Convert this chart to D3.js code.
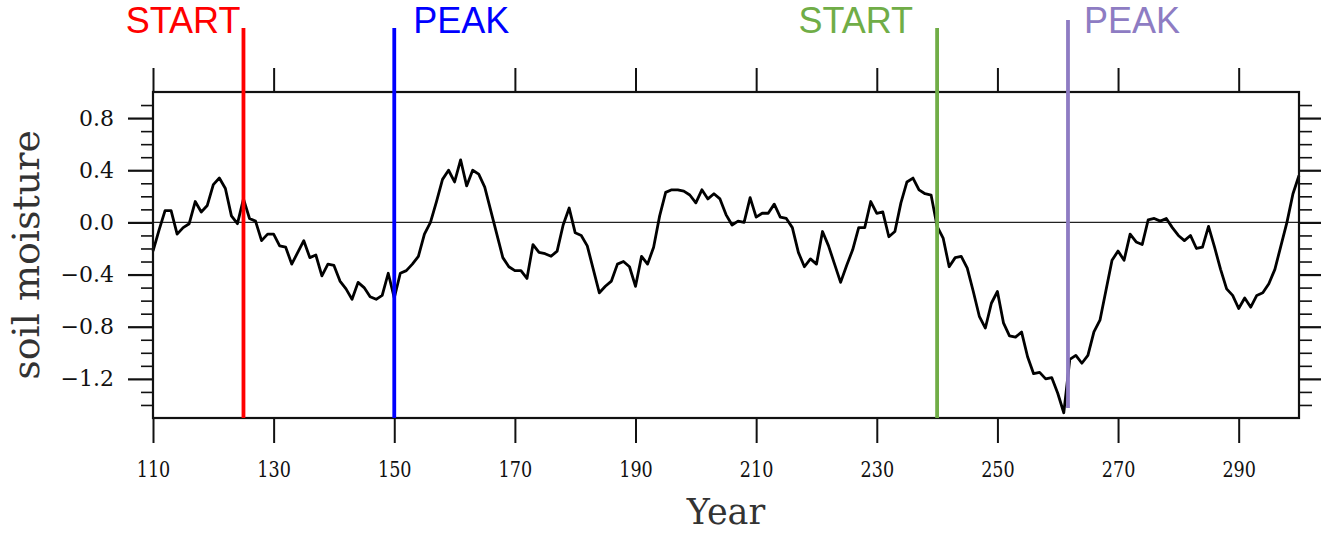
<!DOCTYPE html>
<html>
<head>
<meta charset="utf-8">
<script src="https://cdn.jsdelivr.net/npm/d3@7"></script>
<style>
  html, body { margin: 0; padding: 0; background: #fff; }
  svg { display: block; }
</style>
</head>
<body>
<svg id="chart" width="1326" height="534"></svg>
<script>
// Soil moisture anomaly, one value per year from 110 to 300
const firstYear = 110;
const soilMoisture = [
  -0.22, -0.06, 0.09, 0.09, -0.09, -0.04, -0.01, 0.16, 0.08, 0.13,
  0.29, 0.34, 0.26, 0.05, -0.01, 0.18, 0.03, 0.01, -0.14, -0.09,
  -0.09, -0.18, -0.19, -0.32, -0.23, -0.14, -0.27, -0.25, -0.41, -0.32,
  -0.33, -0.45, -0.51, -0.59, -0.46, -0.50, -0.57, -0.59, -0.56, -0.39,
  -0.58, -0.39, -0.37, -0.32, -0.26, -0.09, 0.00, 0.16, 0.33, 0.40,
  0.31, 0.48, 0.28, 0.40, 0.37, 0.27, 0.09, -0.09, -0.27, -0.34,
  -0.37, -0.37, -0.43, -0.17, -0.23, -0.24, -0.26, -0.22, -0.02, 0.11,
  -0.08, -0.10, -0.18, -0.36, -0.54, -0.49, -0.45, -0.32, -0.30, -0.34,
  -0.49, -0.26, -0.32, -0.19, 0.05, 0.23, 0.25, 0.25, 0.24, 0.21,
  0.15, 0.25, 0.18, 0.22, 0.18, 0.06, -0.02, 0.01, 0.00, 0.19,
  0.04, 0.07, 0.07, 0.14, 0.04, 0.03, -0.04, -0.23, -0.34, -0.28,
  -0.32, -0.07, -0.18, -0.32, -0.46, -0.33, -0.21, -0.04, -0.04, 0.16,
  0.07, 0.08, -0.11, -0.07, 0.15, 0.31, 0.34, 0.25, 0.22, 0.21,
  -0.03, -0.12, -0.34, -0.27, -0.26, -0.35, -0.53, -0.72, -0.81, -0.62,
  -0.53, -0.77, -0.87, -0.88, -0.84, -1.03, -1.16, -1.15, -1.20, -1.19,
  -1.31, -1.46, -1.05, -1.02, -1.08, -1.02, -0.84, -0.75, -0.52, -0.29,
  -0.22, -0.29, -0.09, -0.15, -0.17, 0.02, 0.03, 0.01, 0.03, -0.04,
  -0.10, -0.14, -0.10, -0.20, -0.19, -0.03, -0.19, -0.36, -0.51, -0.56,
  -0.66, -0.58, -0.65, -0.56, -0.54, -0.47, -0.36, -0.18, 0.00, 0.22,
  0.36
];
const years = soilMoisture.map((_, i) => firstYear + i);

// Event markers
const markerYears = [125, 150, 240, 261.7];
const markerLabels = ["START", "PEAK", "START", "PEAK"];

// Axis ticks
const xDomain = [110, 300];
const yDomain = [-1.5, 1.0];
const xTickValues = [110, 130, 150, 170, 190, 210, 230, 250, 270, 290];
const yMajorTicks = [-1.2, -0.8, -0.4, 0.0, 0.4, 0.8];
const yMinorTicks = [-1.4, -1.3, -1.1, -1.0, -0.9, -0.7, -0.6, -0.5, -0.3, -0.2, -0.1,
                     0.1, 0.2, 0.3, 0.5, 0.6, 0.7, 0.9];

const svg = d3.select("#chart");
const plot = { left: 153, right: 1299, top: 92, bottom: 418 };

const x = d3.scaleLinear().domain(xDomain).range([plot.left, plot.right]);
const y = d3.scaleLinear().domain(yDomain).range([plot.bottom, plot.top]);

const serif = "'DejaVu Serif', serif";
const markerColors = ["#ff0000", "#0000ff", "#70ad47", "#8e7cc3"];
const labelAnchor = ["end", "start", "end", "start"];
const labelShift = [-3, 19, -24, 16];
const markerTop = [28, 28, 28, 20];
const markerBottom = [418, 418, 418, 408];

// zero reference line
svg.append("line")
  .attr("x1", x(xDomain[0])).attr("x2", x(xDomain[1]))
  .attr("y1", y(0)).attr("y2", y(0))
  .attr("stroke", "#222").attr("stroke-width", 1.4);

// data line
const line = d3.line()
  .x((d, i) => x(years[i]))
  .y(d => y(d));

svg.append("path")
  .datum(soilMoisture)
  .attr("d", line)
  .attr("fill", "none")
  .attr("stroke", "#000")
  .attr("stroke-width", 2.8)
  .attr("stroke-linejoin", "round");

// axes
function styleAxis(g, width) {
  g.select(".domain").remove();
  g.selectAll(".tick line").attr("stroke", "#111").attr("stroke-width", width);
}

svg.append("g")
  .attr("transform", `translate(0,${plot.bottom})`)
  .call(d3.axisBottom(x).tickValues(xTickValues).tickSize(25).tickPadding(18).tickFormat(d3.format("d")))
  .call(g => styleAxis(g, 2))
  .call(g => g.selectAll(".tick text")
    .attr("font-family", serif)
    .attr("font-size", 22)
    .attr("transform", "scale(0.8,1)")
    .attr("fill", "#111"));

svg.append("g")
  .attr("transform", `translate(0,${plot.top})`)
  .call(d3.axisTop(x).tickValues(xTickValues).tickSize(24).tickFormat(""))
  .call(g => styleAxis(g, 2));

svg.append("g")
  .attr("transform", `translate(${plot.left},0)`)
  .call(d3.axisLeft(y).tickValues(yMajorTicks).tickSize(25).tickPadding(14).tickFormat(d3.format(".1f")))
  .call(g => styleAxis(g, 2.2))
  .call(g => g.selectAll(".tick text")
    .attr("font-family", serif)
    .attr("font-size", 22)
    .attr("fill", "#111"));

svg.append("g")
  .attr("transform", `translate(${plot.left},0)`)
  .call(d3.axisLeft(y).tickValues(yMinorTicks).tickSize(12).tickFormat(""))
  .call(g => styleAxis(g, 1.6));

svg.append("g")
  .attr("transform", `translate(${plot.right},0)`)
  .call(d3.axisRight(y).tickValues(yMajorTicks).tickSize(22).tickFormat(""))
  .call(g => styleAxis(g, 2.2));

svg.append("g")
  .attr("transform", `translate(${plot.right},0)`)
  .call(d3.axisRight(y).tickValues(yMinorTicks).tickSize(13).tickFormat(""))
  .call(g => styleAxis(g, 1.6));

// frame
svg.append("rect")
  .attr("x", plot.left).attr("y", plot.top)
  .attr("width", plot.right - plot.left).attr("height", plot.bottom - plot.top)
  .attr("fill", "none").attr("stroke", "#111").attr("stroke-width", 2.2);

// axis titles
svg.append("text")
  .attr("x", (plot.left + plot.right) / 2).attr("y", 524)
  .attr("text-anchor", "middle")
  .attr("font-family", serif).attr("font-size", 35)
  .attr("fill", "#333")
  .text("Year");

svg.append("text")
  .attr("transform", `translate(39,${(plot.top + plot.bottom) / 2}) rotate(-90)`)
  .attr("text-anchor", "middle")
  .attr("font-family", serif).attr("font-size", 38)
  .attr("fill", "#333")
  .text("soil moisture");

// event markers with their labels
markerYears.forEach((yr, i) => {
  svg.append("line")
    .attr("x1", x(yr)).attr("x2", x(yr))
    .attr("y1", markerTop[i]).attr("y2", markerBottom[i])
    .attr("stroke", markerColors[i]).attr("stroke-width", 3.8);
  svg.append("text")
    .attr("x", x(yr) + labelShift[i]).attr("y", 33)
    .attr("text-anchor", labelAnchor[i])
    .attr("font-family", "'Liberation Sans', Arial, sans-serif")
    .attr("font-size", 36)
    .attr("fill", markerColors[i])
    .text(markerLabels[i]);
});
</script>
</body>
</html>
